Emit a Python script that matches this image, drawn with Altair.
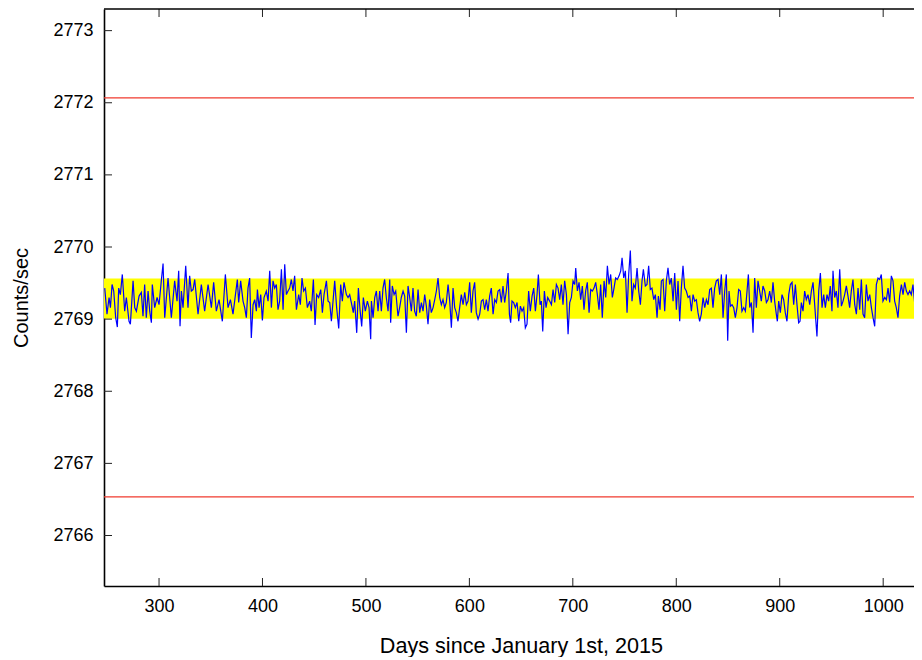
import altair as alt
import pandas as pd

# ---- data ----
days = [
    247.5, 249.7, 251.7, 253.0, 254.6, 256.2, 258.1, 259.7, 261.0, 262.6, 264.5, 266.8, 268.4, 271.0, 272.3,
    274.9, 276.5, 278.1, 280.7, 282.9, 284.5, 286.1, 287.7, 289.4, 291.0, 292.6, 293.5, 295.8, 298.1, 300.0,
    302.2, 303.9, 305.5, 308.7, 311.9, 315.1, 317.4, 319.0, 320.3, 321.6, 323.2, 325.8, 328.0, 329.6, 331.2,
    332.9, 334.5, 337.7, 340.9, 344.1, 347.4, 350.6, 352.8, 355.4, 358.0, 361.2, 364.1, 366.7, 369.0, 371.5,
    375.7, 377.0, 378.9, 381.2, 382.8, 384.4, 386.0, 387.6, 389.2, 390.9, 392.5, 394.1, 395.1, 396.7, 398.3,
    399.9, 401.5, 403.7, 405.4, 407.0, 408.6, 410.2, 411.8, 413.4, 415.0, 416.6, 418.3, 419.9, 421.5, 423.1,
    424.7, 426.3, 427.9, 429.5, 431.1, 432.8, 435.0, 436.6, 438.2, 439.8, 441.5, 443.4, 445.6, 447.2, 449.2,
    450.8, 452.4, 454.3, 456.3, 457.9, 459.5, 461.8, 463.4, 465.0, 466.6, 468.2, 469.8, 471.7, 473.7, 475.6,
    477.2, 478.8, 481.1, 482.7, 484.3, 485.9, 487.8, 489.1, 491.1, 492.7, 494.3, 495.9, 497.5, 499.4, 501.4,
    503.0, 504.6, 505.3, 506.9, 508.5, 510.1, 511.7, 513.3, 514.9, 516.5, 518.1, 519.7, 521.4, 523.0, 523.9,
    525.5, 527.2, 528.8, 531.0, 532.6, 534.2, 535.9, 537.5, 539.1, 540.7, 542.3, 543.9, 545.5, 547.1, 548.7,
    550.4, 552.0, 553.6, 555.2, 556.8, 558.4, 560.0, 561.6, 563.2, 564.9, 566.5, 568.1, 569.7, 571.3, 572.9,
    574.5, 576.1, 577.7, 579.4, 581.0, 582.6, 584.2, 585.8, 587.4, 589.0, 590.6, 592.2, 593.9, 595.5, 597.1,
    598.7, 600.3, 601.9, 603.5, 605.1, 606.7, 608.4, 610.0, 611.6, 613.2, 614.8, 616.4, 618.0, 619.6, 621.2,
    622.9, 624.5, 626.1, 627.7, 629.3, 630.9, 632.5, 634.1, 635.7, 637.4, 638.7, 639.9, 641.2, 642.8, 644.4,
    646.1, 647.7, 649.3, 650.9, 652.5, 654.1, 655.7, 657.3, 658.9, 660.6, 662.2, 663.8, 665.4, 666.7, 668.3,
    669.6, 670.9, 672.5, 674.1, 675.7, 677.6, 679.3, 680.9, 682.5, 684.1, 685.7, 687.3, 688.9, 690.5, 692.1,
    693.8, 695.4, 697.0, 698.6, 700.2, 701.8, 702.8, 704.4, 706.0, 707.6, 709.2, 710.8, 712.4, 714.0, 715.7,
    717.3, 718.9, 720.5, 722.1, 723.7, 725.3, 726.9, 728.5, 730.2, 731.8, 733.4, 735.0, 736.6, 738.2, 739.8,
    741.4, 743.0, 744.7, 746.3, 747.6, 749.2, 750.8, 752.4, 754.0, 755.6, 757.2, 758.8, 760.4, 762.1, 763.7,
    765.3, 766.9, 768.2, 770.1, 771.7, 773.3, 774.9, 776.5, 778.2, 779.8, 781.4, 782.7, 784.3, 785.6, 787.2,
    788.8, 790.4, 792.0, 793.6, 795.2, 796.9, 798.5, 800.1, 801.7, 803.3, 804.9, 806.5, 808.1, 809.7, 811.4,
    813.0, 814.6, 816.2, 817.8, 819.4, 821.0, 822.6, 824.2, 825.9, 827.5, 829.1, 830.7, 832.3, 833.9, 835.5,
    837.1, 838.7, 840.4, 842.0, 843.6, 845.2, 846.8, 848.4, 849.7, 851.0, 852.3, 853.9, 855.5, 857.1, 858.7,
    860.3, 861.9, 863.5, 865.2, 866.8, 868.4, 869.7, 871.0, 872.6, 874.2, 875.8, 877.4, 879.0, 880.6, 882.2,
    883.8, 885.5, 887.1, 888.7, 890.3, 891.9, 893.5, 895.1, 896.7, 897.7, 899.0, 900.6, 902.2, 903.8, 905.4,
    907.0, 908.7, 910.3, 911.9, 913.5, 915.1, 916.7, 918.3, 919.6, 920.9, 922.5, 924.1, 925.7, 927.3, 929.0,
    930.6, 932.2, 933.8, 936.0, 937.7, 939.3, 940.9, 942.5, 944.1, 945.7, 947.3, 948.9, 950.5, 951.5, 953.1,
    954.7, 956.3, 958.0, 959.6, 961.2, 962.8, 964.4, 966.0, 967.6, 969.2, 970.8, 972.5, 974.1, 975.7, 977.3,
    978.9, 980.5, 982.1, 983.7, 985.3, 987.0, 988.6, 990.2, 991.8, 993.4, 995.0, 996.6, 998.2, 999.8, 1001.5,
    1003.1, 1004.7, 1006.3, 1007.9, 1009.5, 1011.1, 1012.7, 1014.3, 1015.9, 1017.6, 1019.2, 1020.8, 1022.4, 1024.0, 1025.6,
    1027.2, 1028.8, 1030.4, 1032.1, 1033.7, 1035.3, 1036.9, 1038.5,
]
counts = [
    2769.43, 2769.07, 2769.30, 2769.16, 2769.48, 2769.39, 2769.02, 2768.89, 2769.43, 2769.34, 2769.62, 2769.11, 2769.30, 2768.97, 2768.93,
    2769.53, 2769.16, 2769.11, 2769.32, 2769.37, 2769.04, 2769.48, 2769.02, 2769.39, 2769.11, 2768.95, 2769.48, 2769.16, 2769.30, 2769.20,
    2769.53, 2769.77, 2769.02, 2769.57, 2769.02, 2769.53, 2769.25, 2769.67, 2768.90, 2769.39, 2769.16, 2769.74, 2769.16, 2769.60, 2769.39,
    2769.41, 2769.55, 2769.07, 2769.48, 2769.11, 2769.48, 2769.16, 2769.51, 2769.11, 2769.27, 2768.97, 2769.62, 2769.16, 2769.27, 2769.07,
    2769.55, 2769.23, 2769.53, 2769.25, 2769.16, 2769.02, 2769.43, 2769.57, 2768.74, 2769.20, 2769.27, 2769.11, 2769.41, 2769.16, 2769.34,
    2768.98, 2769.30, 2769.39, 2769.25, 2769.67, 2769.16, 2769.53, 2769.43, 2769.48, 2769.13, 2769.25, 2769.69, 2769.13, 2769.76, 2769.34,
    2769.39, 2769.43, 2769.55, 2769.39, 2769.60, 2769.13, 2769.34, 2769.20, 2769.57, 2769.39, 2769.43, 2769.16, 2769.25, 2769.11, 2769.55,
    2768.92, 2769.34, 2769.30, 2769.41, 2769.09, 2769.34, 2769.53, 2769.25, 2769.23, 2768.97, 2769.25, 2769.53, 2769.16, 2768.87, 2769.48,
    2769.25, 2769.51, 2769.34, 2769.30, 2769.34, 2769.23, 2769.09, 2769.25, 2768.81, 2769.43, 2769.13, 2768.90, 2769.30, 2769.11, 2769.25,
    2769.16, 2768.72, 2769.25, 2769.02, 2769.30, 2769.39, 2769.11, 2769.39, 2769.11, 2769.43, 2769.55, 2769.30, 2769.11, 2769.55, 2768.95,
    2769.46, 2769.34, 2769.39, 2769.04, 2769.16, 2769.30, 2769.39, 2769.32, 2768.81, 2769.46, 2769.30, 2769.11, 2769.43, 2769.11, 2769.04,
    2769.41, 2769.09, 2769.23, 2769.11, 2769.34, 2769.18, 2768.93, 2769.27, 2769.09, 2769.16, 2769.27, 2769.39, 2769.57, 2769.30, 2769.20,
    2769.27, 2769.16, 2769.23, 2769.48, 2769.25, 2768.88, 2769.43, 2769.16, 2769.09, 2768.97, 2769.16, 2769.34, 2769.20, 2769.37, 2769.20,
    2769.25, 2769.51, 2769.09, 2769.39, 2769.51, 2769.09, 2769.00, 2769.07, 2769.25, 2769.27, 2769.13, 2769.27, 2769.11, 2769.32, 2769.43,
    2769.07, 2769.27, 2769.23, 2769.39, 2769.41, 2769.23, 2769.46, 2769.23, 2769.39, 2769.64, 2769.07, 2768.95, 2769.25, 2769.23, 2769.16,
    2769.23, 2768.97, 2769.18, 2769.11, 2769.16, 2768.88, 2768.93, 2769.39, 2769.11, 2769.32, 2769.43, 2769.11, 2769.34, 2769.62, 2769.20,
    2769.25, 2768.83, 2769.39, 2769.16, 2769.30, 2769.25, 2769.20, 2769.41, 2769.23, 2769.48, 2769.43, 2769.27, 2769.48, 2769.20, 2769.53,
    2769.34, 2768.79, 2769.23, 2769.30, 2769.53, 2769.48, 2769.71, 2769.39, 2769.51, 2769.27, 2769.46, 2769.13, 2769.39, 2769.51, 2769.09,
    2769.41, 2769.39, 2769.43, 2769.51, 2769.34, 2769.13, 2769.48, 2769.02, 2769.53, 2769.30, 2769.74, 2769.48, 2769.62, 2769.30, 2769.43,
    2769.57, 2769.55, 2769.60, 2769.67, 2769.85, 2769.57, 2769.67, 2769.09, 2769.62, 2769.95, 2769.25, 2769.48, 2769.43, 2769.71, 2769.39,
    2769.20, 2769.53, 2769.69, 2769.46, 2769.48, 2769.74, 2769.41, 2769.43, 2769.27, 2769.34, 2769.02, 2769.32, 2769.13, 2769.53, 2769.55,
    2769.11, 2769.53, 2769.71, 2769.48, 2769.57, 2769.25, 2769.64, 2769.13, 2769.53, 2768.97, 2769.43, 2769.74, 2769.43, 2769.39, 2769.30,
    2769.32, 2769.11, 2769.34, 2769.25, 2769.27, 2769.09, 2768.97, 2769.07, 2769.30, 2769.16, 2769.27, 2769.20, 2769.41, 2769.43, 2769.16,
    2769.43, 2769.53, 2769.55, 2769.34, 2769.62, 2769.02, 2769.39, 2769.62, 2768.70, 2769.39, 2769.18, 2769.20, 2769.16, 2769.02, 2769.16,
    2769.41, 2769.39, 2769.11, 2769.16, 2769.11, 2769.39, 2769.62, 2769.16, 2769.23, 2768.81, 2769.57, 2769.16, 2769.53, 2769.39, 2769.25,
    2769.46, 2769.39, 2769.23, 2769.27, 2769.39, 2769.23, 2769.51, 2769.25, 2769.07, 2768.97, 2769.25, 2769.09, 2769.34, 2769.27, 2769.09,
    2768.97, 2769.34, 2769.48, 2769.51, 2769.20, 2769.48, 2769.20, 2768.95, 2768.97, 2769.23, 2769.11, 2769.39, 2769.27, 2769.34, 2769.20,
    2769.39, 2769.51, 2769.20, 2768.76, 2769.39, 2769.64, 2769.16, 2769.34, 2769.16, 2769.34, 2769.25, 2769.46, 2769.11, 2769.67, 2769.30,
    2769.39, 2769.16, 2769.69, 2769.18, 2769.25, 2769.34, 2769.46, 2769.32, 2769.16, 2769.39, 2769.55, 2769.20, 2769.07, 2769.43, 2769.13,
    2769.55, 2769.07, 2769.02, 2769.48, 2769.25, 2769.34, 2769.16, 2769.02, 2768.90, 2769.48, 2769.57, 2769.55, 2769.62, 2769.25, 2769.30,
    2769.27, 2769.43, 2769.23, 2769.60, 2769.53, 2769.25, 2769.16, 2769.02, 2769.32, 2769.48, 2769.34, 2769.51, 2769.39, 2769.34, 2769.39,
    2769.34, 2769.48, 2769.23, 2769.09, 2769.46, 2769.37, 2769.27, 2769.30,
]
band_low, band_high = 2769.006, 2769.565
limits = [2772.067, 2766.536]
x_ticks = [300, 400, 500, 600, 700, 800, 900, 1000]
y_ticks = [2766, 2767, 2768, 2769, 2770, 2771, 2772, 2773]
x_domain = [246.8, 1029.8]
y_domain = [2765.3, 2773.3]

W, H = 810, 577
FONT = "Liberation Sans"

xs = alt.Scale(domain=x_domain, nice=False, zero=False)
ys = alt.Scale(domain=y_domain, nice=False, zero=False)

x_axis = alt.Axis(
    values=x_ticks, format="d", grid=False, tickSize=0, domainColor="#000000", domainWidth=1.6,
    labelFont=FONT, labelFontSize=18, labelColor="#000000", labelPadding=11,
    title="Days since January 1st, 2015", titleFont=FONT, titleFontSize=21.6,
    titleFontWeight="normal", titleColor="#000000", titleX=417, titleY=66,
    titleBaseline="alphabetic")
y_axis = alt.Axis(
    values=y_ticks, format="d", grid=False, tickSize=0, domainColor="#000000", domainWidth=1.6,
    labelFont=FONT, labelFontSize=18, labelColor="#000000", labelPadding=11,
    title="Counts/sec", titleFont=FONT, titleFontSize=20, titleFontWeight="normal",
    titleColor="#000000", titleX=-77, titleBaseline="alphabetic")

series = pd.DataFrame({"day": days, "cps": counts})
band_df = pd.DataFrame({"lo": [band_low], "hi": [band_high]})
lim_df = pd.DataFrame({"lim": limits})
xt_df = pd.DataFrame({"xt": x_ticks})
yt_df = pd.DataFrame({"yt": y_ticks})

band = alt.Chart(band_df).mark_rect(color="#ffff00").encode(
    y=alt.Y("lo:Q", scale=ys, axis=y_axis), y2="hi:Q",
    x=alt.value(0), x2=alt.value(W),
)

line = alt.Chart(series).mark_line(color="#0000ff", strokeWidth=1.2, clip=True).encode(
    x=alt.X("day:Q", scale=xs, axis=x_axis),
    y=alt.Y("cps:Q", scale=ys, axis=y_axis),
)

lim = alt.Chart(lim_df).mark_rule(color="#f03a2e", strokeWidth=1.3).encode(
    y=alt.Y("lim:Q", scale=ys, axis=y_axis), x=alt.value(0), x2=alt.value(W),
)

xt_bottom = alt.Chart(xt_df).mark_rule(color="#222222", strokeWidth=1).encode(
    x=alt.X("xt:Q", scale=xs, axis=x_axis), y=alt.value(H), y2=alt.value(H - 8),
)
xt_top = alt.Chart(xt_df).mark_rule(color="#222222", strokeWidth=1).encode(
    x=alt.X("xt:Q", scale=xs, axis=x_axis), y=alt.value(0), y2=alt.value(8),
)
yt_left = alt.Chart(yt_df).mark_rule(color="#222222", strokeWidth=1).encode(
    y=alt.Y("yt:Q", scale=ys, axis=y_axis), x=alt.value(0), x2=alt.value(8),
)
top_frame = alt.Chart(band_df).mark_rule(color="#000000", strokeWidth=1.6).encode(
    y=alt.value(0), x=alt.value(0), x2=alt.value(W),
)

chart = alt.layer(band, line, lim, xt_bottom, xt_top, yt_left, top_frame).properties(
    width=W, height=H,
    autosize=alt.AutoSizeParams(type="none"),
    padding={"left": 96, "top": 1, "right": 0, "bottom": 71},
).configure_view(stroke="transparent")

chart.save("out.html", embed_options={"renderer": "svg", "actions": False})
